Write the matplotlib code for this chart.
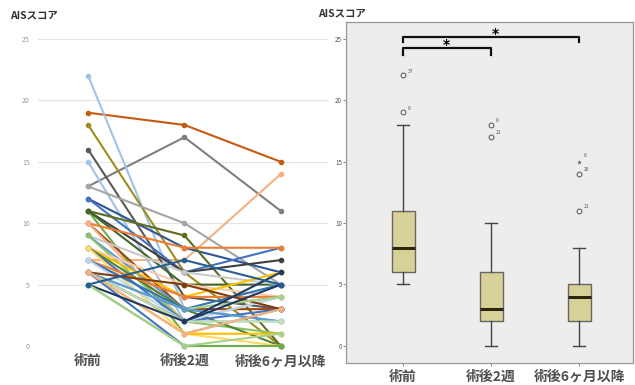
import matplotlib
matplotlib.use("Agg")
import matplotlib.pyplot as plt

plt.rcParams['font.family'] = ['Noto Sans CJK JP', 'DejaVu Sans']

categories = ['術前', '術後2週', '術後6ヶ月以降']
yticks = [0, 5, 10, 15, 20, 25]

# left panel: one row per patient (pre, 2 weeks, 6 months+)
pre = [19, 13, 7, 22, 18, 16, 15, 13, 12, 12, 11, 11, 11, 11, 10, 10, 10, 9, 9, 9,
       8, 8, 8, 8, 8, 7, 7, 7, 6, 6, 6, 6, 6, 6, 6, 6, 5, 5, 5, 5]
wk2 = [18, 17, 7, 3, 6, 4, 2, 10, 8, 6, 9, 6, 1, 5, 8, 3, 2, 6, 3, 2,
       5, 4, 3, 2, 1, 4, 3, 2, 5, 3, 3, 2, 2, 1, 0, 1, 2, 0, 0, 7]
m6 = [15, 11, 14, 4, 0, 3, 2, 5, 6, 8, 0, 7, 3, 5, 8, 3, 4, 5, 2, 1,
      4, 6, 0, 3, 0, 4, 5, 4, 3, 4, 2, 5, 2, 1, 0, 3, 6, 0, 1, 5]
line_colors = ['#c55a11', '#7f7f7f', '#f4b183', '#9dc3e6', '#a08c1c', '#595959',
               '#9dc3e6', '#a5a5a5', '#2f5597', '#4472c4', '#5f6b1e', '#404040',
               '#70ad47', '#43682b', '#ed7d31', '#9e480e', '#f4b183', '#c9c9c9',
               '#5b9bd5', '#8cc168', '#f8cbad', '#ffc000', '#548235', '#4472c4',
               '#ffd966', '#ed7d31', '#2e75b6', '#bdd7ee', '#843c0c', '#a9d18e',
               '#5b9bd5', '#1f3864', '#c5e0b4', '#ffc000', '#4472c4', '#f4b183',
               '#203864', '#70ad47', '#a9d18e', '#255e91']

# right panel: box statistics (SPSS)
q1 = [6, 2, 2]
med = [8, 3, 4]
q3 = [11, 6, 5]
whislo = [5, 0, 0]
whishi = [18, 10, 8]
outliers = [[22, 19], [18, 17], [14, 11]]
outlier_ids = [['37', '8'], ['8', '21'], ['26', '21']]
extremes = [[], [], [15]]
extreme_ids = [[], [], ['8']]

fig = plt.figure(figsize=(6.35, 3.85), dpi=100)

# ---- left: individual lines
ax = fig.add_axes([38 / 635, 39 / 385, 290 / 635, 307 / 385])
for i in range(len(pre)):
    ax.plot(range(3), [pre[i], wk2[i], m6[i]], color=line_colors[i % len(line_colors)],
            lw=1.5, marker='o', ms=3, clip_on=False, zorder=3)
ax.set_xlim(-0.52, 2.49)
ax.set_ylim(0, 25)
ax.set_yticks(yticks)
ax.set_yticklabels([str(v) for v in yticks], fontsize=5, color='#999999')
ax.yaxis.grid(True, color='#e3e3e3', lw=0.8)
ax.set_axisbelow(True)
ax.set_xticks(range(3))
ax.set_xticklabels(categories, fontsize=10, color='#505050', fontweight='bold')
ax.tick_params(length=0, axis='both')
ax.tick_params(axis='x', pad=6)
ax.tick_params(axis='y', pad=6)
for s in ax.spines.values():
    s.set_visible(False)
fig.text(10 / 635, 1 - 15 / 385, 'AISスコア', fontsize=7.5, fontweight='bold',
         color='#333333', va='center')

# ---- right: box plot
bx = fig.add_axes([346 / 635, 22 / 385, 287 / 635, 341 / 385])
bx.set_facecolor('#ededed')
stats = []
for i in range(3):
    stats.append(dict(q1=q1[i], med=med[i], q3=q3[i], whislo=whislo[i],
                      whishi=whishi[i], fliers=[]))
bx.bxp(stats, positions=range(3), widths=0.26, patch_artist=True, showfliers=False,
       boxprops=dict(facecolor='#d8d197', edgecolor='#666666', lw=1),
       medianprops=dict(color='#2e2410', lw=2.2),
       whiskerprops=dict(color='#444444', lw=1),
       capprops=dict(color='#444444', lw=1), capwidths=0.14)
for i in range(3):
    for v, lab in zip(outliers[i], outlier_ids[i]):
        bx.plot(i, v, marker='o', mfc='none', mec='#555555', ms=3.5, mew=0.7)
        bx.text(i + 0.05, v + 0.35, lab, fontsize=3.5, color='#555555', va='center')
    for v, lab in zip(extremes[i], extreme_ids[i]):
        bx.plot(i, v, marker='*', color='#555555', ms=3.5, mew=0)
        bx.text(i + 0.05, v + 0.5, lab, fontsize=3.5, color='#555555', va='center')

# significance brackets
bx.plot([0, 0, 2, 2], [24.7, 25.1, 25.1, 24.7], color='#111111', lw=1.6)
bx.plot([0, 0, 1, 1], [23.7, 24.2, 24.2, 23.7], color='#111111', lw=1.6)
bx.text(1.05, 25.4, '*', fontsize=10, fontweight='bold', ha='center', va='center',
        family='DejaVu Sans')
bx.text(0.49, 24.5, '*', fontsize=10, fontweight='bold', ha='center', va='center',
        family='DejaVu Sans')

bx.set_xlim(-0.65, 2.61)
bx.set_ylim(-1.39, 26.35)
bx.set_yticks(yticks)
bx.set_yticklabels([str(v) for v in yticks], fontsize=4.5, color='#555555')
bx.set_xticks(range(3))
bx.set_xticklabels(categories, fontsize=10, color='#505050', fontweight='bold')
bx.tick_params(axis='y', length=2, width=0.6, color='#777777', pad=1)
bx.tick_params(axis='x', length=2, width=0.6, color='#777777', pad=3)
for s in bx.spines.values():
    s.set_color('#999999')
    s.set_linewidth(0.9)
fig.text(318 / 635, 1 - 13 / 385, 'AISスコア', fontsize=7.5, fontweight='bold',
         color='#333333', va='center')

fig.savefig('out.png', dpi=100)
